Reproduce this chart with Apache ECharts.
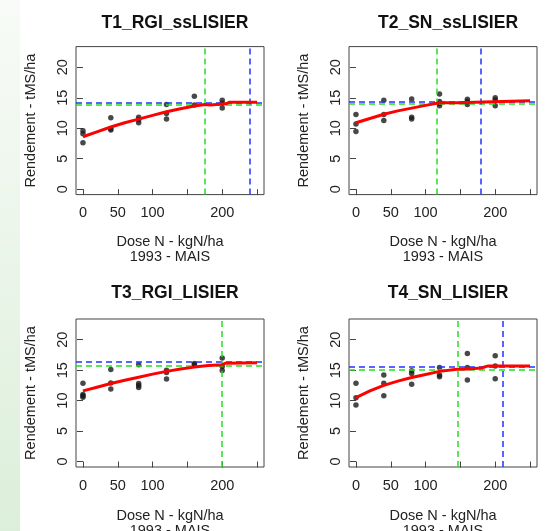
<!DOCTYPE html>
<html>
<head>
<meta charset="utf-8">
<script src="https://cdn.jsdelivr.net/npm/echarts@6/dist/echarts.min.js"></script>
<style>html,body{margin:0;padding:0;background:#fff}#c{width:547px;height:531px}</style>
</head>
<body>
<div id="c"></div>
<script>
// ---- data ----
const titles = ['T1_RGI_ssLISIER', 'T2_SN_ssLISIER', 'T3_RGI_LISIER', 'T4_SN_LISIER'];
const xTicks = [0, 50, 100, 150, 200, 250];
const xTickLabels = [0, 50, 100, 200];
const yTicks = [0, 5, 10, 15, 20];

const t1Points = [[0,9.6],[0,9.1],[0,7.6],[40,11.7],[40,9.9],[40,9.7],[80,11.8],[80,11.4],[80,10.9],[120,13.9],[120,12.4],[120,11.5],[160,15.25],[160,13.8],[200,14.6],[200,14.1],[200,13.3]];
const t1Curve = [[0,8.6],[20,9.4],[40,10.2],[60,10.9],[80,11.5],[100,12.1],[120,12.7],[140,13.2],[160,13.65],[175,13.9],[183,13.8],[205,14.0],[210,14.25],[250,14.25]];
const t1HLines = [14.2, 13.8];   // blue, green
const t1VLines = [175, 240];     // green, blue

const t2Points = [[0,12.25],[0,10.7],[0,9.45],[40,14.6],[40,12.25],[40,11.25],[80,14.8],[80,11.8],[80,11.5],[120,15.6],[120,14.4],[120,14.05],[120,13.7],[160,14.75],[160,14.4],[160,13.9],[200,15.0],[200,14.65],[200,13.7]];
const t2Curve = [[0,10.9],[20,11.6],[40,12.3],[60,12.85],[80,13.3],[100,13.75],[116,14.1],[120,14.2],[145,14.2],[147,14.5],[250,14.5]];
const t2HLines = [14.4, 14.05];
const t2VLines = [116, 179];

const t3Points = [[0,12.85],[0,11.0],[0,10.8],[0,10.55],[40,15.1],[40,12.9],[40,11.9],[80,15.9],[80,12.8],[80,12.5],[80,12.15],[120,15.0],[120,14.6],[120,13.55],[160,16.1],[160,15.9],[200,17.0],[200,15.6],[200,14.95]];
const t3Curve = [[0,11.6],[20,12.2],[40,12.8],[60,13.35],[80,13.85],[100,14.35],[120,14.8],[140,15.2],[160,15.5],[180,15.75],[200,15.9],[205,16.15],[250,16.2]];
const t3HLines = [16.35, 15.8];
const t3VLines = [200, null];

const t4Points = [[0,12.85],[0,10.45],[0,9.3],[40,14.2],[40,12.85],[40,10.8],[80,14.9],[80,14.45],[80,12.7],[120,15.45],[120,14.2],[120,13.9],[160,17.75],[160,15.45],[160,13.4],[200,17.35],[200,15.7],[200,13.6]];
const t4Curve = [[0,10.5],[20,11.6],[40,12.5],[60,13.2],[80,13.8],[100,14.3],[120,14.8],[145,15.15],[160,15.2],[180,15.35],[190,15.7],[250,15.7]];
const t4HLines = [15.55, 15.0];
const t4VLines = [146, 211];

const panels = [
  {pts: t1Points, curve: t1Curve, h: t1HLines, v: t1VLines},
  {pts: t2Points, curve: t2Curve, h: t2HLines, v: t2VLines},
  {pts: t3Points, curve: t3Curve, h: t3HLines, v: t3VLines},
  {pts: t4Points, curve: t4Curve, h: t4HLines, v: t4VLines}
];

// ---- layout ----
const FONT = 'Liberation Sans, Arial, sans-serif';
const BLUE = '#2233ff', GREEN = '#22e022', RED = '#ff0000';
const lefts = [76, 349, 76, 349];
const tops = [46.6, 46.6, 319, 319];
const titleTops = [9, 9, 279, 279];
const nameGaps = [40, 40, 41, 41];
const W = 188, H = 148;

const chart = echarts.init(document.getElementById('c'), null, {renderer: 'canvas'});

const grid = [], xAxis = [], yAxis = [], series = [], title = [];
panels.forEach((p, i) => {
  grid.push({left: lefts[i], top: tops[i], width: W, height: H, show: true, borderColor: '#444', borderWidth: 1,
    backgroundColor: 'transparent', containLabel: false, outerBoundsMode: 'none'});
  title.push({text: titles[i], left: lefts[i] + W / 2, top: titleTops[i], textAlign: 'center',
    textStyle: {fontFamily: FONT, fontWeight: 'bold', fontSize: 17.5, color: '#111'}});
  xAxis.push({gridIndex: i, type: 'value', min: -10, max: 260,
    axisLine: {show: false}, splitLine: {show: false},
    axisTick: {show: true, length: 6, lineStyle: {color: '#444'}, customValues: xTicks},
    axisLabel: {customValues: xTickLabels, fontFamily: FONT, fontSize: 14.5, color: '#222', margin: 11},
    name: 'Dose N - kgN/ha\n1993 - MAIS', nameLocation: 'middle', nameGap: nameGaps[i],
    nameTextStyle: {fontFamily: FONT, fontSize: 14.5, color: '#222', lineHeight: 15}});
  yAxis.push({gridIndex: i, type: 'value', min: -0.9, max: 23.4,
    axisLine: {show: false}, splitLine: {show: false},
    axisTick: {show: true, length: 6, lineStyle: {color: '#444'}, customValues: yTicks},
    axisLabel: {customValues: yTicks, rotate: 90, fontFamily: FONT, fontSize: 14.5, color: '#222', margin: 6},
    name: 'Rendement - tMS/ha', nameLocation: 'middle', nameGap: 38, nameRotate: 90,
    nameTextStyle: {fontFamily: FONT, fontSize: 14.5, color: '#222'}});
  const ml = [];
  if (p.h[0] != null) ml.push({yAxis: p.h[0], lineStyle: {color: BLUE}});
  if (p.h[1] != null) ml.push({yAxis: p.h[1], lineStyle: {color: GREEN}});
  if (p.v[0] != null) ml.push({xAxis: p.v[0], lineStyle: {color: GREEN}});
  if (p.v[1] != null) ml.push({xAxis: p.v[1], lineStyle: {color: BLUE}});
  series.push({type: 'scatter', xAxisIndex: i, yAxisIndex: i, data: p.pts, symbolSize: 5.5,
    itemStyle: {color: '#1a1a1a'}, z: 2, silent: true,
    markLine: {silent: true, symbol: 'none', label: {show: false}, animation: false,
      lineStyle: {type: [6, 4], width: 1.5}, data: ml}});
  series.push({type: 'line', xAxisIndex: i, yAxisIndex: i, data: p.curve, showSymbol: false,
    lineStyle: {color: RED, width: 3}, z: 5, silent: true});
});

chart.setOption({
  animation: false,
  graphic: [{type: 'rect', left: 0, top: 0, z: -10, shape: {width: 20, height: 531},
    style: {fill: new echarts.graphic.LinearGradient(0, 0, 0, 1, [{offset: 0, color: '#f8fbf7'}, {offset: 1, color: '#dcefda'}])}}],
  title, grid, xAxis, yAxis, series
});
</script>
</body>
</html>
